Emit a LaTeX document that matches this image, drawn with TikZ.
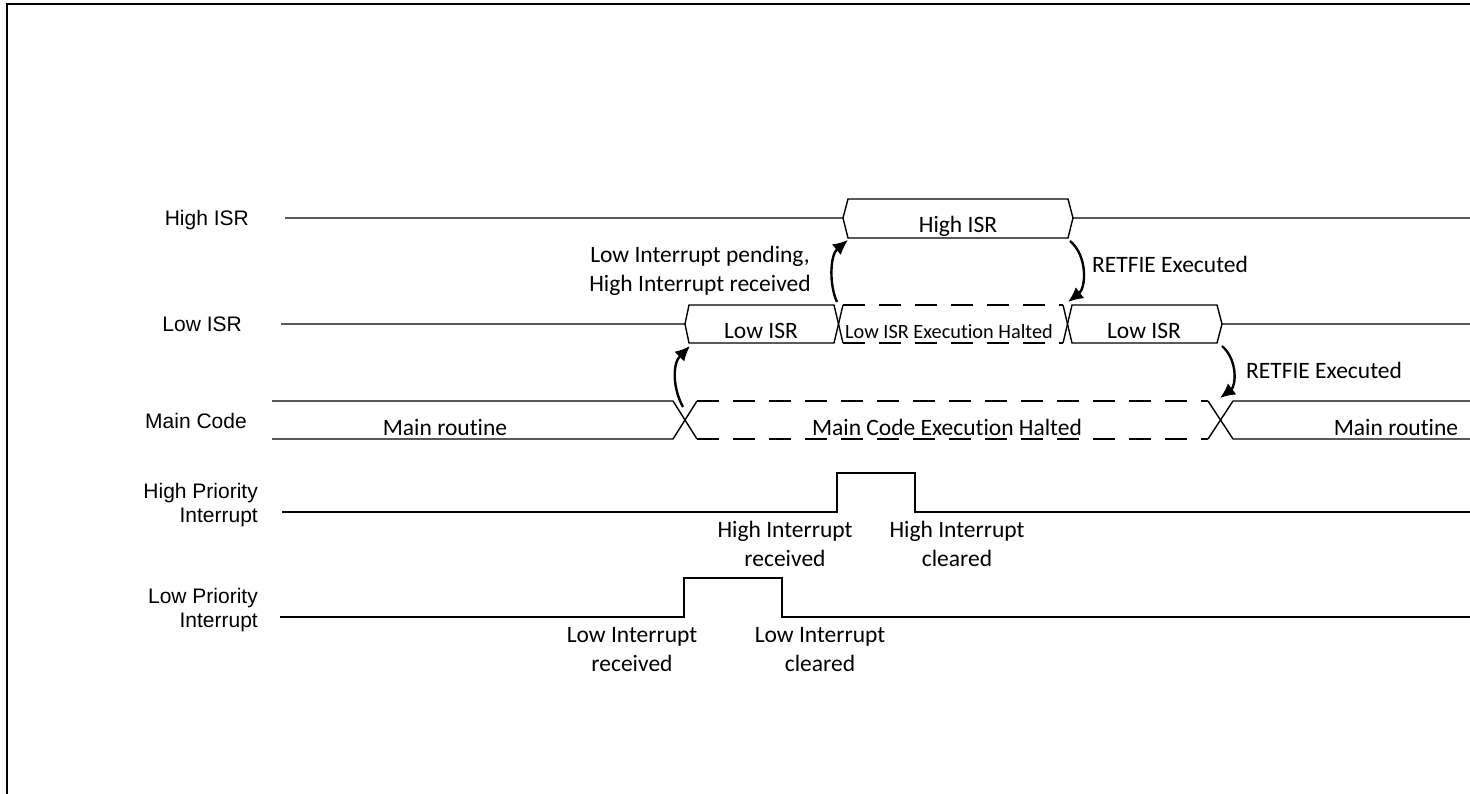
\documentclass[tikz,border=0pt]{standalone}
\usepackage{fontspec}
\setmainfont{Carlito}[Ligatures={NoCommon}]
\newfontfamily\arialfont{Liberation Sans}
\usetikzlibrary{arrows.meta}
\begin{document}
\begin{tikzpicture}[x=1pt,y=-1pt,
  sig/.style={line width=1.4pt, line join=miter},
  dsig/.style={sig, dash pattern=on 22pt off 14pt},
  frame/.style={line width=2.2pt},
  lbl/.style={font=\arialfont\fontsize{21}{24}\selectfont, anchor=base east, inner sep=0pt, align=right},
  txt/.style={font=\fontsize{23.5}{29}\selectfont, inner sep=0pt, align=center, anchor=base},
  small/.style={font=\fontsize{20.3}{24}\selectfont},
  arr/.style={line width=2.4pt, -{Latex[length=15pt,width=14pt]}}]
\useasboundingbox (0,0) rectangle (1470,794);
% frame
\draw[frame] (7,794) -- (7,4) -- (1470,4);

% left labels
\node[lbl] (lhi) at (249,226) {High ISR};
\node[lbl] (llo) at (242,332) {Low ISR};
\node[lbl] (lmc) at (247,428) {Main Code};
\node[lbl] (lhp) at (258,522) {High Priority\\Interrupt};
\node[lbl] (llp) at (258,627) {Low Priority\\Interrupt};

% High ISR row
\draw[sig] (285,218) -- (843,218) -- (848,199) -- (1068,199) -- (1073,218) -- (1470,218);
\draw[sig] (843,218) -- (848,238) -- (1068,238) -- (1073,218);
\node[txt] (thi) at (958,233) {High ISR};

% Low ISR row
\draw[sig] (281,324) -- (685,324) -- (689,305) -- (834,305) -- (843,343);
\draw[sig] (685,324) -- (689,343) -- (834,343) -- (843,305);
\draw[dsig] (843,305) -- (1063,305);
\draw[dsig] (843,343) -- (1063,343);
\draw[sig] (1063,305) -- (1072,343) -- (1217,343) -- (1222,324) -- (1470,324);
\draw[sig] (1063,343) -- (1072,305) -- (1217,305) -- (1222,324);
\node[txt] (tlo1) at (761,338) {Low ISR};
\node[txt,small] (thalt) at (949,338) {Low ISR Execution Halted};
\node[txt] (tlo2) at (1144,338) {Low ISR};

% Main code row
\draw[sig] (272,401) -- (673,401) -- (697,439);
\draw[sig] (272,439) -- (673,439) -- (697,401);
\draw[dsig] (697,401) -- (1208,401);
\draw[dsig] (697,439) -- (1208,439);
\draw[sig] (1208,401) -- (1233,439) -- (1470,439);
\draw[sig] (1208,439) -- (1233,401) -- (1470,401);
\node[txt] (tmr1) at (445,435) {Main routine};
\node[txt] (tmch) at (947,435) {Main Code Execution Halted};
\node[txt] (tmr2) at (1396,435) {Main routine};

% High priority interrupt
\draw[sig] (282,512) -- (837,512) -- (837,473) -- (915,473) -- (915,512) -- (1470,512);
% Low priority interrupt
\draw[sig] (280,617) -- (684,617) -- (684,578) -- (782,578) -- (782,617) -- (1470,617);

% event labels
\node[txt] (tpend) at (700,292) {Low Interrupt pending,\\High Interrupt received};
\node[txt] (thir) at (785,566) {High Interrupt\\received};
\node[txt] (thic) at (957,566) {High Interrupt\\cleared};
\node[txt] (tlir) at (632,671) {Low Interrupt\\received};
\node[txt] (tlic) at (820,671) {Low Interrupt\\cleared};
\node[txt] (tret1) at (1170,273) {RETFIE Executed};
\node[txt] (tret2) at (1324,378) {RETFIE Executed};

% arrow end points
\coordinate (a1s) at (683,407);
\coordinate (a1e) at (690,346);
\coordinate (a2s) at (837,302);
\coordinate (a2e) at (848,240);
\coordinate (a3s) at (1070,241);
\coordinate (a3e) at (1068,302);
\coordinate (a4s) at (1222,346);
\coordinate (a4e) at (1220,398);

\draw[arr] (a1s) .. controls +(-10,-18) and +(-18,18) .. (a1e);
\draw[arr] (a2s) .. controls +(-8,-17) and +(-18,15) .. (a2e);
\draw[arr] (a3s) .. controls +(18,15) and +(18,-14) .. (a3e);
\draw[arr] (a4s) .. controls +(16,14) and +(16,-12) .. (a4e);
\end{tikzpicture}
\end{document}
